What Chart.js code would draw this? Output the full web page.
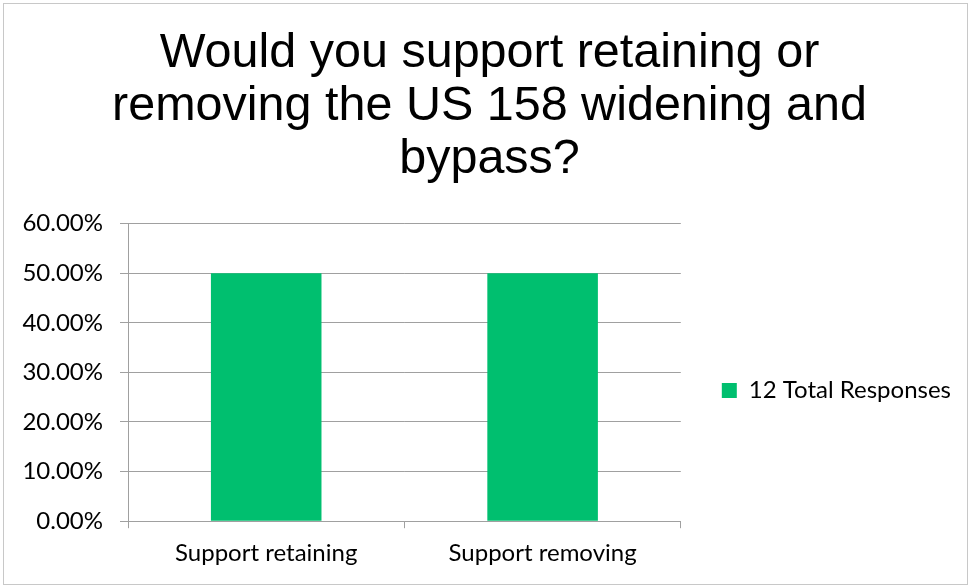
<!DOCTYPE html>
<html><head><meta charset="utf-8">
<script src="https://cdn.jsdelivr.net/npm/chart.js@4"></script>
<style>html,body{margin:0;padding:0;background:#fff}#w{width:969px;height:586px}</style>
</head><body><div id="w"><canvas id="c" width="969" height="586"></canvas></div>
<script>
const categories = ["Support retaining", "Support removing"];
const seriesName = "12 Total Responses";
const seriesValues = [0.5, 0.5];
const yTicks = [0, 0.1, 0.2, 0.3, 0.4, 0.5, 0.6];
const titleLines = ["Would you support retaining or", "removing the US 158 widening and", "bypass?"];

const borderPlugin = {
  id: 'outerBorder',
  beforeDraw(chart) {
    const ctx = chart.ctx;
    ctx.save();
    ctx.fillStyle = '#fff';
    ctx.fillRect(0, 0, chart.width, chart.height);
    ctx.strokeStyle = '#c8c8c8';
    ctx.lineWidth = 1;
    ctx.strokeRect(3.5, 3.5, 964, 581);
    ctx.restore();
  }
};
const tickFont = {family: "Lato, 'Open Sans', sans-serif", size: 24};
new Chart(document.getElementById('c'), {
  type: 'bar',
  data: {
    labels: categories,
    datasets: [{label: seriesName, data: seriesValues, backgroundColor: '#00BF6F', borderWidth: 0,
      categoryPercentage: 0.4, barPercentage: 1.0}]
  },
  plugins: [borderPlugin],
  options: {
    responsive: false, animation: false,
    layout: {padding: {left: 18, right: 8, top: 10, bottom: 7}},
    plugins: {
      title: {display: true, text: titleLines, color: '#000',
        font: {family: "'Liberation Sans', Arial, sans-serif", size: 48.5, weight: 'normal', lineHeight: 1.09},
        padding: {top: 17, bottom: 38}},
      legend: {position: 'right', fullSize: false, maxWidth: 400,
        title: {display: true, text: ' ', font: {size: 10, lineHeight: 1}, padding: {top: 0, bottom: 26}},
        labels: {boxWidth: 15, boxHeight: 15, padding: 41, color: '#000', font: tickFont}},
      tooltip: {enabled: false}
    },
    scales: {
      y: {min: 0, max: 0.6,
        afterBuildTicks(axis) { axis.ticks = yTicks.map(v => ({value: v})); },
        afterFit(axis) { axis.width = 110; },
        ticks: {color: '#000', font: tickFont, padding: 17, callback: v => (v * 100).toFixed(2) + '%'},
        grid: {color: '#a0a0a0', tickLength: 8, drawTicks: true},
        border: {color: '#a0a0a0'}
      },
      x: {
        ticks: {color: '#000', font: tickFont, padding: 11},
        grid: {color: '#a0a0a0', offset: true, drawOnChartArea: false, tickLength: 7},
        border: {color: '#a0a0a0'}
      }
    }
  }
});
</script></body></html>
